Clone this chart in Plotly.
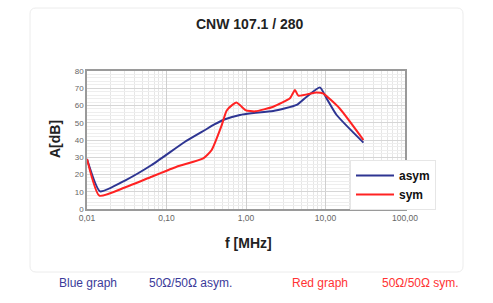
import plotly.graph_objects as go

# ---- data ----
asym_f = [0.01, 0.0146, 0.03, 0.065, 0.171, 0.305, 0.4, 0.545, 0.84, 1.17, 2.2, 4.34, 5.8, 8.5, 10.3, 13.8, 30]
asym_a = [29, 10.2, 16.5, 25.5, 39, 45.8, 49.0, 52, 54.5, 55.5, 56.8, 60.3, 65.1, 70.5, 64.2, 54.5, 38.5]

sym_f = [0.01, 0.0143, 0.03, 0.065, 0.134, 0.29, 0.37, 0.49, 0.57, 0.68, 0.76, 0.85, 1.0, 1.3, 2.2, 3.57, 4.13, 4.55, 7.7, 9.3, 15, 30]
sym_a = [29, 7.7, 12.5, 18.7, 24.5, 29.4, 34.2, 48.0, 57.0, 60.5, 61.8, 60.0, 57.2, 56.6, 59.3, 64.2, 69, 65.7, 67.6, 67, 58.4, 40]

x_tickvals = [0.01, 0.1, 1, 10, 100]
x_ticktext = ["0,01", "0,10", "1,00", "10,00", "100,00"]
y_tickvals = [0, 10, 20, 30, 40, 50, 60, 70, 80]

title_text = "CNW 107.1 / 280"
BLUE = "#2e3592"
RED = "#ff2222"

W, H = 493, 303
L, R, T, B = 87, 405, 71, 209  # plot area px


def px(x):
    return (x - L) / (R - L)


def py(y):
    return (B - y) / (B - T)


fig = go.Figure()
fig.add_trace(go.Scatter(x=asym_f, y=asym_a, mode="lines", name="asym",
                         line=dict(color=BLUE, width=2, shape="spline", smoothing=0.5)))
fig.add_trace(go.Scatter(x=sym_f, y=sym_a, mode="lines", name="sym",
                         line=dict(color=RED, width=2, shape="spline", smoothing=0.5)))

font = "Liberation Sans, Arial, sans-serif"


def ann(text, x, y, size, color, bold=False, xanchor="center", angle=0):
    return dict(text=text, xref="paper", yref="paper", x=px(x), y=py(y),
                xanchor=xanchor, yanchor="middle", textangle=angle, showarrow=False,
                font=dict(family=font, size=size, color=color,
                          weight="bold" if bold else "normal"))


fig.update_layout(
    width=W, height=H,
    margin=dict(l=L, r=W - R, t=T, b=H - B),
    paper_bgcolor="white", plot_bgcolor="white",
    font=dict(family=font, size=8, color="#555"),
    showlegend=True,
    legend=dict(x=px(350), y=py(160), xanchor="left", yanchor="top",
                bgcolor="white", bordercolor="#e6e6e6", borderwidth=1,
                font=dict(family=font, size=12, color="#111", weight="bold"),
                itemwidth=38),
    xaxis=dict(type="log", range=[-2, 2], tickvals=x_tickvals, ticktext=x_ticktext,
               showgrid=True, gridcolor="#cfcfcf", gridwidth=1,
               minor=dict(showgrid=True, gridcolor="#e6e6e6", gridwidth=1,
                          tickvals=[a * b for b in [0.01, 0.1, 1, 10] for a in range(2, 10)]),
               showline=True, linecolor="#9a9a9a", linewidth=1.5, mirror=True,
               ticks="", ticklen=0, tickfont=dict(size=8.5, color="#666"), zeroline=False),
    yaxis=dict(range=[0, 80], tickvals=y_tickvals,
               showgrid=True, gridcolor="#d6d6d6", gridwidth=1,
               minor=dict(showgrid=True, gridcolor="#eeeeee", dtick=2),
               showline=True, linecolor="#9a9a9a", linewidth=1.5, mirror=True,
               ticks="", tickfont=dict(size=8, color="#666"), zeroline=False),
    shapes=[dict(type="path", xref="paper", yref="paper",
                 path=(f"M {px(36)},{py(8)} L {px(457)},{py(8)} Q {px(463)},{py(8)} {px(463)},{py(14)} "
                       f"L {px(463)},{py(266)} Q {px(463)},{py(272)} {px(457)},{py(272)} "
                       f"L {px(36)},{py(272)} Q {px(30)},{py(272)} {px(30)},{py(266)} "
                       f"L {px(30)},{py(14)} Q {px(30)},{py(8)} {px(36)},{py(8)} Z"),
                 line=dict(color="#ececec", width=1), layer="below")],
    annotations=[
        ann(title_text, 250, 24, 14, "#222", bold=True),
        ann("A[dB]", 55, 139, 14, "#222", bold=True, angle=-90),
        ann("f [MHz]", 248, 243, 14, "#222", bold=True),
        ann("Blue graph", 57, 283, 12, "#3b3b9a", xanchor="left"),
        ann("50Ω/50Ω asym.", 147, 283, 12, "#3b3b9a", xanchor="left"),
        ann("Red graph", 290, 283, 12, "#ff3333", xanchor="left"),
        ann("50Ω/50Ω sym.", 380, 283, 12, "#ff3333", xanchor="left"),
    ],
)

fig.write_html("out.html", config={"displayModeBar": False},
               post_script="document.body.style.margin='0';document.body.style.overflow='hidden';")
